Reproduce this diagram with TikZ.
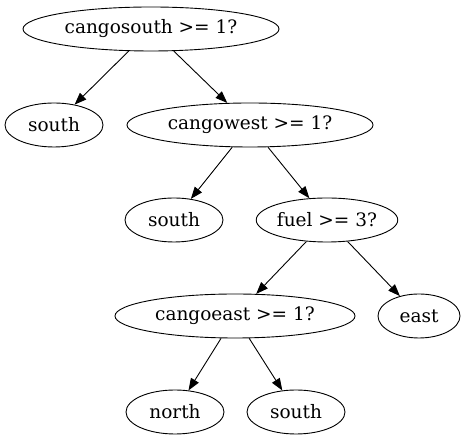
\documentclass[tikz,border=0pt]{standalone}
\usepackage{fontspec}
\setmainfont{DejaVu Serif}
\usetikzlibrary{shapes.geometric,arrows.meta}
\begin{document}
\begin{tikzpicture}[x=1pt,y=1pt,
  nd/.style={draw,ellipse,line width=0.9pt,inner sep=0pt,minimum height=44pt,font=\fontsize{18.5}{20}\selectfont},
  ed/.style={-{Triangle[length=12pt,width=9pt]},line width=0.9pt}]
\useasboundingbox (0,0) rectangle (465,443);
\node[nd,minimum width=256pt] (n1) at (151,414) {cangosouth >= 1?};
\node[nd,minimum width=98pt] (n2) at (54,318) {south};
\node[nd,minimum width=246pt] (n3) at (250,318) {cangowest >= 1?};
\node[nd,minimum width=98pt] (n4) at (174,223) {south};
\node[nd,minimum width=130pt] (n5) at (327,223) {fuel >= 3?};
\node[nd,minimum width=240pt] (n6) at (235,127) {cangoeast >= 1?};
\node[nd,minimum width=82pt] (n7) at (419,127) {east};
\node[nd,minimum width=98pt] (n8) at (175,31) {north};
\node[nd,minimum width=98pt] (n9) at (296,31) {south};
\draw[ed] (n1) -- (n2);
\draw[ed] (n1) -- (n3);
\draw[ed] (n3) -- (n4);
\draw[ed] (n3) -- (n5);
\draw[ed] (n5) -- (n6);
\draw[ed] (n5) -- (n7);
\draw[ed] (n6) -- (n8);
\draw[ed] (n6) -- (n9);
\end{tikzpicture}
\end{document}
